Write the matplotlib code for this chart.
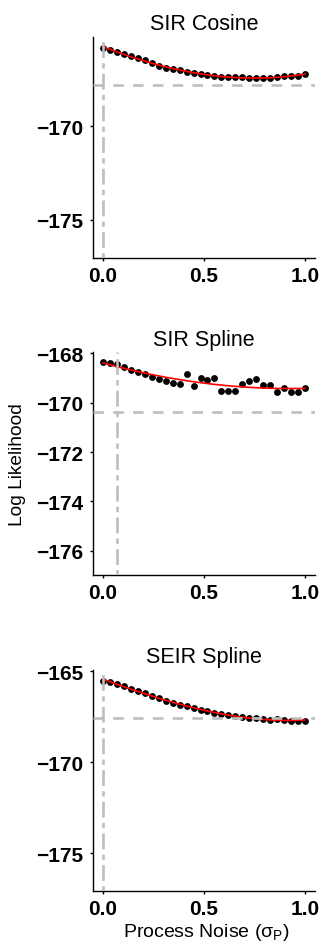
import matplotlib
matplotlib.use('Agg')
import matplotlib.pyplot as plt
import numpy as np

plt.rcParams['font.family'] = ['Liberation Sans', 'DejaVu Sans']
plt.rcParams['mathtext.fontset'] = 'custom'
plt.rcParams['mathtext.rm'] = 'Liberation Sans'

# 过程噪声取值（30个点）
sigma_p = np.linspace(0, 1, 30)

titles = ["SIR Cosine", "SIR Spline", "SEIR Spline"]

ll_sir_cosine = [-165.82, -165.94, -166.05, -166.14, -166.26, -166.39, -166.50, -166.62,
                 -166.78, -166.89, -166.96, -167.03, -167.10, -167.15, -167.22, -167.28,
                 -167.35, -167.38, -167.38, -167.38, -167.38, -167.44, -167.44, -167.44,
                 -167.42, -167.38, -167.33, -167.33, -167.33, -167.22]
ll_sir_spline = [-168.36, -168.39, -168.42, -168.55, -168.66, -168.77, -168.85, -168.97,
                 -169.05, -169.14, -169.22, -169.23, -168.84, -169.32, -169.01, -169.07,
                 -169.01, -169.54, -169.54, -169.54, -169.23, -169.12, -169.04, -169.30,
                 -169.30, -169.58, -169.42, -169.58, -169.58, -169.42]
ll_seir_spline = [-165.51, -165.60, -165.70, -165.81, -165.95, -166.06, -166.21, -166.34,
                  -166.47, -166.61, -166.72, -166.85, -166.92, -167.01, -167.11, -167.20,
                  -167.31, -167.36, -167.42, -167.47, -167.51, -167.56, -167.58, -167.62,
                  -167.67, -167.62, -167.67, -167.71, -167.71, -167.71]
series = [ll_sir_cosine, ll_sir_spline, ll_seir_spline]

# 参考线
hline_y = [-167.83, -170.38, -167.55]
vline_x = [0.0, 2 / 29, 0.0]

y_ticks = [[-170, -175], [-168, -170, -172, -174, -176], [-165, -170, -175]]
y_lims = [(-177.03, -165.25), (-176.97, -167.96), (-177.09, -164.91)]
fit_deg = [3, 2, 3]

W, H = 322, 945
fig = plt.figure(figsize=(W / 100, H / 100), dpi=100)

# 各子图像素位置 (top, bottom)
boxes = [(38, 259), (353.3, 575.7), (670.7, 892.3)]
left, right = 93, 315

for i in range(3):
    top, bot = boxes[i]
    ax = fig.add_axes([left / W, 1 - bot / H, (right - left) / W, (bot - top) / H])
    y = np.array(series[i])
    ax.plot(sigma_p, y, 'o', color='black', ms=3.9, zorder=2)
    coef = np.polyfit(sigma_p, y, fit_deg[i])
    xs = np.linspace(0, 1, 200)
    ax.plot(xs, np.polyval(coef, xs), color='red', lw=1.2, zorder=3)
    ax.axhline(hline_y[i], color='#BEBEBE', lw=1.9, ls=(0, (4, 3.5)), zorder=4)
    ax.axvline(vline_x[i], color='#BEBEBE', lw=1.9, ls=(0, (2, 2, 6, 2)), zorder=5)

    ax.set_xlim(-0.05, 1.05)
    ax.set_ylim(*y_lims[i])
    ax.set_xticks([0.0, 0.5, 1.0])
    ax.set_xticklabels(['0.0', '0.5', '1.0'])
    ax.set_yticks(y_ticks[i])
    for s in ['top', 'right']:
        ax.spines[s].set_visible(False)
    for s in ['left', 'bottom']:
        ax.spines[s].set_linewidth(1.0)
    ax.tick_params(axis='both', length=2.2, width=1.0, labelsize=15)
    ax.tick_params(axis='y', pad=4.5)
    ax.tick_params(axis='x', pad=3.5)
    for lab in ax.get_xticklabels() + ax.get_yticklabels():
        lab.set_fontweight('bold')
    ax.set_title(titles[i], fontsize=15.5, pad=5.5)

fig.text(18 / W, 1 - 465 / H, 'Log Likelihood', rotation=90, ha='center', va='center', fontsize=13.8)
fig.text(206 / W, 1 - 933 / H, r'Process Noise (σ$_\mathregular{P}$)', ha='center', va='center',
         fontsize=14)

fig.savefig('out.png', dpi=100)
